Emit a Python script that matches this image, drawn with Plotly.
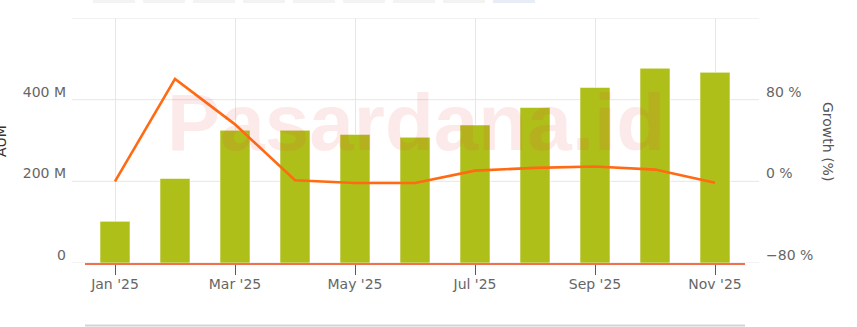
import plotly.graph_objects as go

# ---- data ----
months = ["Jan '25", "Feb '25", "Mar '25", "Apr '25", "May '25", "Jun '25",
          "Jul '25", "Aug '25", "Sep '25", "Oct '25", "Nov '25"]
aum_m = [102, 207, 325, 325, 315, 308, 338, 381, 430, 477, 467]          # AUM in millions
growth_pct = [0.0, 100.4, 55.8, 1.0, -1.6, -1.6, 10.5, 13.2, 14.5, 11.5, -1.3]

x_tick_labels = ["Jan '25", "Mar '25", "May '25", "Jul '25", "Sep '25", "Nov '25"]
left_tick_vals = [0, 200, 400]
left_tick_text = ["0", "200 M", "400 M"]
right_tick_vals = [-80, 0, 80]
right_tick_text = ["\u221280 %", "0 %", "80 %"]
grid_vals = [0, 200, 400, 600]

FONT = "DejaVu Sans"
W, H = 857, 327
ML, MR, MT, MB = 85, 112, 18, 64
PW = W - ML - MR
PH = H - MT - MB


def px_to_paper_x(px):
    return (px - ML) / PW


def px_to_paper_y(py):
    return (H - MB - py) / PH


fig = go.Figure()

fig.add_trace(go.Bar(
    x=months, y=aum_m, name="AUM",
    marker=dict(color="#afbf19", line=dict(color="rgba(255,255,255,0.55)", width=1)),
    yaxis="y",
))
fig.add_trace(go.Scatter(
    x=months, y=growth_pct, name="Growth (%)", mode="lines",
    line=dict(color="#ff6a13", width=2.6),
    yaxis="y2",
))

shapes = []
# horizontal grid lines (extend slightly beyond plot area as in the reference)
for v in grid_vals:
    shapes.append(dict(type="line", xref="paper", yref="y",
                       x0=px_to_paper_x(72), x1=px_to_paper_x(759), y0=v, y1=v,
                       line=dict(color="#e6e6e6", width=1), layer="below"))
# bottom separator line
shapes.append(dict(type="line", xref="paper", yref="paper",
                   x0=0, x1=1, y0=px_to_paper_y(325.5), y1=px_to_paper_y(325.5),
                   line=dict(color="#d4d4d4", width=2)))
# faint buttons cut at the top edge
for k in range(9):
    x0 = 93 + 50 * k
    shapes.append(dict(type="rect", xref="paper", yref="paper",
                       x0=px_to_paper_x(x0), x1=px_to_paper_x(x0 + 42),
                       y0=px_to_paper_y(3), y1=px_to_paper_y(-4),
                       fillcolor="#e8ecf7" if k == 8 else "#f3f3f3",
                       line=dict(width=0)))

annotations = [
    dict(text="<b>Pasardana.id</b>", xref="paper", yref="paper",
         x=px_to_paper_x(416), y=px_to_paper_y(122), showarrow=False,
         font=dict(family="Liberation Sans", size=80, color="rgba(228,70,70,0.12)"),
         xanchor="center", yanchor="middle"),
    dict(text="AUM", xref="paper", yref="paper",
         x=px_to_paper_x(1), y=px_to_paper_y(141), showarrow=False, textangle=-90,
         font=dict(family=FONT, size=14, color="#333333"),
         xanchor="center", yanchor="middle"),
    dict(text="Growth (%)", xref="paper", yref="paper",
         x=px_to_paper_x(828), y=px_to_paper_y(141), showarrow=False, textangle=90,
         font=dict(family=FONT, size=14, color="#555555"),
         xanchor="center", yanchor="middle"),
]

fig.update_layout(
    width=W, height=H, autosize=False,
    margin=dict(l=ML, r=MR, t=MT, b=MB, pad=0),
    paper_bgcolor="white", plot_bgcolor="white",
    showlegend=False, bargap=0.5,
    font=dict(family=FONT, size=14, color="#666666"),
    xaxis=dict(type="category", range=[-0.5, 10.5],
               tickmode="array", tickvals=x_tick_labels, ticktext=x_tick_labels,
               showgrid=True, gridcolor="#e6e6e6", gridwidth=1,
               ticks="outside", ticklen=10, tickwidth=1, tickcolor="#e0201f",
               showline=True, linecolor="#f2704f", linewidth=2,
               ticklabelstandoff=-3,
               tickfont=dict(family=FONT, size=14, color="#666666"),
               zeroline=False),
    yaxis=dict(range=[0, 600], showgrid=False, zeroline=False,
               tickmode="array", tickvals=left_tick_vals, ticktext=left_tick_text,
               ticks="", ticklabelshift=-8, ticklabelstandoff=18,
               tickfont=dict(family=FONT, size=14, color="#666666")),
    yaxis2=dict(range=[-80, 160], overlaying="y", side="right",
                showgrid=False, zeroline=False,
                tickmode="array", tickvals=right_tick_vals, ticktext=right_tick_text,
                ticks="", ticklabelshift=-8, ticklabelstandoff=20,
                tickfont=dict(family=FONT, size=14, color="#666666")),
    shapes=shapes,
    annotations=annotations,
)

fig.write_html("out.html")
